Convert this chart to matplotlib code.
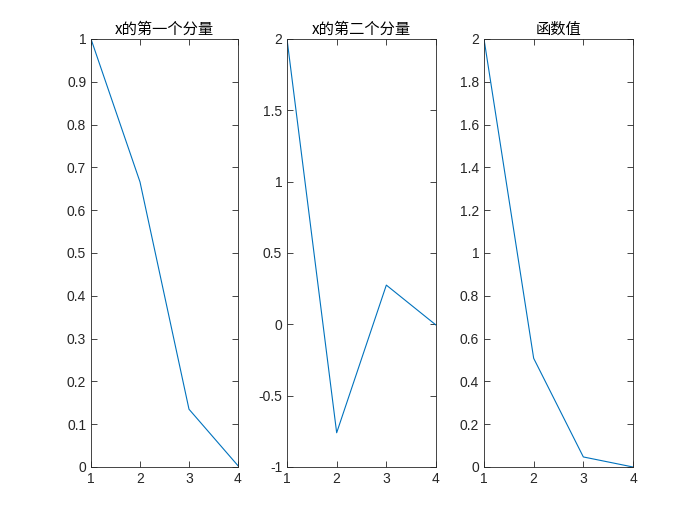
import matplotlib
matplotlib.use('Agg')
import matplotlib.pyplot as plt
import numpy as np

plt.rcParams['font.family'] = ['Noto Sans CJK SC', 'DejaVu Sans']
plt.rcParams['axes.unicode_minus'] = False

iters = [1, 2, 3, 4]
x1_vals = [1.0, 0.666, 0.135, 0.003]
x2_vals = [2.0, -0.76, 0.275, -0.005]
f_vals = [2.0, 0.508, 0.047, 0.0]

titles = ['x的第一个分量', 'x的第二个分量', '函数值']
ylims = [(0, 1), (-1, 2), (0, 2)]
yticks = [np.arange(0, 1.01, 0.1), np.arange(-1, 2.01, 0.5), np.arange(0, 2.01, 0.2)]

fig = plt.figure(figsize=(7, 5.25), dpi=100)
lefts = [91, 287, 484]
widths = [147, 149, 149]
gray = '#262626'

for i, data in enumerate([x1_vals, x2_vals, f_vals]):
    ax = fig.add_axes([lefts[i] / 700, 1 - 467 / 525, widths[i] / 700, 428 / 525])
    ax.plot(iters, data, color='#0072BD', linewidth=0.8)
    ax.set_xlim(1, 4)
    ax.set_ylim(*ylims[i])
    ax.set_xticks(iters)
    ax.set_yticks(yticks[i])
    ax.set_yticklabels(['%g' % round(v, 2) for v in yticks[i]])
    ax.set_title(titles[i], fontsize=11, color='black', pad=4)
    ax.tick_params(direction='in', top=True, right=True, labelsize=10,
                   colors=gray, length=4, width=0.6)
    for lab in ax.get_xticklabels() + ax.get_yticklabels():
        lab.set_family(['Liberation Sans', 'DejaVu Sans'])
    for s in ax.spines.values():
        s.set_color(gray)
        s.set_linewidth(0.6)

fig.savefig('out.png', dpi=100)
